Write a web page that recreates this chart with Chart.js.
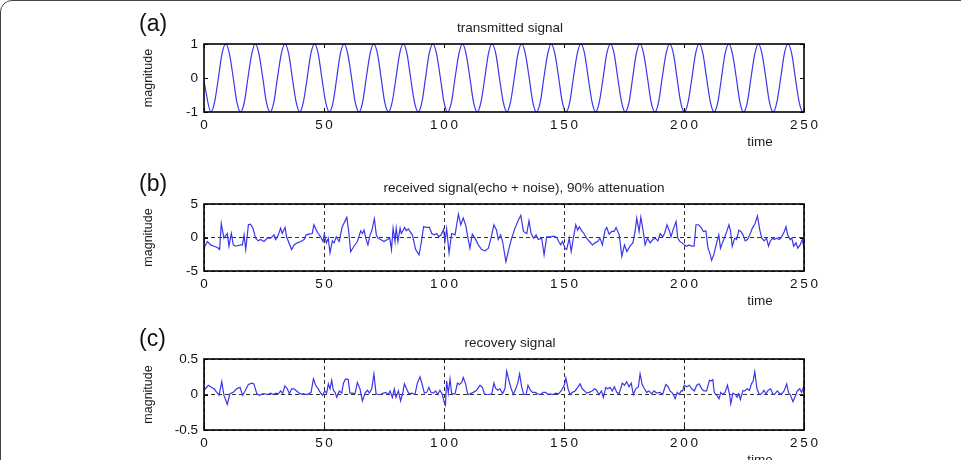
<!DOCTYPE html>
<html>
<head>
<meta charset="utf-8">
<script src="https://cdn.jsdelivr.net/npm/chart.js@4.4.1/dist/chart.umd.min.js"></script>
<style>
body { margin: 0; background: #fff; width: 961px; height: 460px; overflow: hidden; position: relative; }
.frame { position: absolute; left: 0; top: 0; width: 1000px; height: 500px; border: 1px solid #444; border-radius: 12px; box-sizing: border-box; }
canvas { position: absolute; left: 0; }
</style>
</head>
<body>
<div class="frame"></div>
<canvas id="chartA" width="961" height="158" style="top:0px"></canvas>
<canvas id="chartB" width="961" height="157" style="top:158px"></canvas>
<canvas id="chartC" width="961" height="145" style="top:315px"></canvas>
<script>
// x tick labels shared by all three panels
var timeTicks = [0, 50, 100, 150, 200, 250];

// (a) transmitted signal, one row per period (trough, rise, zero, rise, peak, fall, zero, fall)
var aTime = [0,
    2.9, 4.4, 6.0, 7.5, 9.1, 10.6, 12.2, 13.7,
    15.2, 16.8, 18.3, 19.9, 21.4, 22.9, 24.5, 26.0,
    27.6, 29.1, 30.6, 32.2, 33.7, 35.3, 36.8, 38.4,
    39.9, 41.4, 43.0, 44.5, 46.1, 47.6, 49.1, 50.7,
    52.2, 53.8, 55.3, 56.8, 58.4, 59.9, 61.5, 63.0,
    64.6, 66.1, 67.6, 69.2, 70.7, 72.3, 73.8, 75.3,
    76.9, 78.4, 80.0, 81.5, 83.0, 84.6, 86.1, 87.7,
    89.2, 90.8, 92.3, 93.8, 95.4, 96.9, 98.5, 100.0,
    101.5, 103.1, 104.6, 106.2, 107.7, 109.2, 110.8, 112.3,
    113.9, 115.4, 117.0, 118.5, 120.0, 121.6, 123.1, 124.7,
    126.2, 127.7, 129.3, 130.8, 132.4, 133.9, 135.5, 137.0,
    138.5, 140.1, 141.6, 143.2, 144.7, 146.2, 147.8, 149.3,
    150.9, 152.4, 153.9, 155.5, 157.0, 158.6, 160.1, 161.7,
    163.2, 164.7, 166.3, 167.8, 169.4, 170.9, 172.4, 174.0,
    175.5, 177.1, 178.6, 180.1, 181.7, 183.2, 184.8, 186.3,
    187.9, 189.4, 190.9, 192.5, 194.0, 195.6, 197.1, 198.6,
    200.2, 201.7, 203.3, 204.8, 206.3, 207.9, 209.4, 211.0,
    212.5, 214.1, 215.6, 217.1, 218.7, 220.2, 221.8, 223.3,
    224.8, 226.4, 227.9, 229.5, 231.0, 232.5, 234.1, 235.6,
    237.2, 238.7, 240.3, 241.8, 243.3, 244.9, 246.4, 248.0,
    249.5, 250];
var aValue = [-0.1,
    -1, -0.71, 0, 0.71, 1, 0.71, 0, -0.71,
    -1, -0.71, 0, 0.71, 1, 0.71, 0, -0.71,
    -1, -0.71, 0, 0.71, 1, 0.71, 0, -0.71,
    -1, -0.71, 0, 0.71, 1, 0.71, 0, -0.71,
    -1, -0.71, 0, 0.71, 1, 0.71, 0, -0.71,
    -1, -0.71, 0, 0.71, 1, 0.71, 0, -0.71,
    -1, -0.71, 0, 0.71, 1, 0.71, 0, -0.71,
    -1, -0.71, 0, 0.71, 1, 0.71, 0, -0.71,
    -1, -0.71, 0, 0.71, 1, 0.71, 0, -0.71,
    -1, -0.71, 0, 0.71, 1, 0.71, 0, -0.71,
    -1, -0.71, 0, 0.71, 1, 0.71, 0, -0.71,
    -1, -0.71, 0, 0.71, 1, 0.71, 0, -0.71,
    -1, -0.71, 0, 0.71, 1, 0.71, 0, -0.71,
    -1, -0.71, 0, 0.71, 1, 0.71, 0, -0.71,
    -1, -0.71, 0, 0.71, 1, 0.71, 0, -0.71,
    -1, -0.71, 0, 0.71, 1, 0.71, 0, -0.71,
    -1, -0.71, 0, 0.71, 1, 0.71, 0, -0.71,
    -1, -0.71, 0, 0.71, 1, 0.71, 0, -0.71,
    -1, -0.71, 0, 0.71, 1, 0.71, 0, -0.71,
    -1, -0.71, 0, 0.71, 1, 0.71, 0, -0.71,
    -1, -0.99];
var aTicks = [-1, 0, 1];

// (b) received signal (echo + noise)
var bTime = [0, 1.4, 2.8, 4.2, 5.6, 6.5, 7.2, 8.3, 9.7, 10.4, 11.4, 12.2, 13.2, 15.3, 16, 16.7, 17.4, 18.5, 19.4, 20.4,
    21.5, 22.6, 23.6, 25, 26.4, 27.8, 29.2, 29.9, 31, 31.9, 32.6, 33.8, 34.4, 36.5, 37.5, 38.9, 40.3, 41.7, 42.6, 43.8,
    45.1, 45.8, 46.8, 47.6, 48.6, 49.6, 50.1, 51, 51.8, 52.5, 53.5, 54.2, 55.1, 56.3, 57.6, 59.5, 60.3, 61.1, 62.5, 63.9,
    65.3, 66, 66.7, 67.4, 68.3, 69.2, 69.9, 71, 71.8, 72.5, 73.6, 75, 76.4, 77.4, 78.1, 78.8, 79.6, 80.1, 80.8, 81.7,
    82.2, 82.9, 83.6, 84.3, 85.1, 85.8, 86.8, 88.2, 89.6, 90.6, 91.5, 92.5, 93.9, 94.9, 96, 97, 97.8, 98.8, 99.8, 100.4,
    101.1, 102.1, 103.2, 104.6, 106, 107, 108, 109, 110.1, 110.8, 111.8, 112.9, 114.3, 115.7, 117.1, 118.5, 119.6, 120.8, 121.9, 122.6,
    123.6, 124.4, 125.8, 127.1, 128.2, 129.6, 131, 132, 133.1, 134.5, 135.4, 136.3, 137.3, 138.4, 139.3, 140.7, 141.7, 142.8, 144.2, 145.8,
    146.9, 147.8, 148.6, 149.4, 150.4, 151.1, 152.2, 153, 153.9, 154.9, 155.7, 156.4, 157.4, 158.3, 159.4, 160.6, 161.9, 162.9, 164, 165,
    166, 167.1, 167.8, 168.8, 169.9, 170.9, 171.7, 173, 174.1, 175.2, 176.2, 177.5, 178.7, 179.6, 180.3, 181.3, 182, 182.8, 183.8, 184.8,
    185.9, 187, 188, 189.1, 190.1, 191.1, 191.9, 192.9, 193.9, 194.6, 195.4, 196.7, 197.4, 198.3, 199.2, 200.1, 201.1, 202.2, 203.2, 204.2,
    205, 206, 207.1, 208.1, 209.1, 210, 211, 211.5, 212.4, 213.4, 214.5, 215.2, 216, 216.8, 218, 218.7, 219.4, 220.1, 221.1, 221.9,
    222.9, 223.7, 224.6, 225.5, 226.4, 227.4, 228.5, 229.6, 230.6, 231.6, 232.4, 233.4, 234.4, 235.2, 235.9, 236.9, 237.6, 238.6, 239.7, 240.7,
    241.8, 242.5, 243.2, 244.2, 244.9, 245.7, 246.7, 247.4, 248.4, 249.3, 250];
var bValue = [-1.6, -0.6, -1.1, -1.3, -1.5, -1.8, 2.1, -0.1, 0.6, -1.3, 0.6, -1.1, -1.3, -1.1, -1.1, 0.4, -1.8, 1.9, 2.0, 1.4,
    -0.1, -0.5, -0.3, -0.6, -0.1, -0.1, 0.4, -0.3, 0.4, 1.4, 0.6, 1.5, 0.1, -1.8, -1.1, -0.8, -0.6, -0.3, 0.4, 0.5,
    0.6, 1.9, 1.1, 0.6, 0.1, -0.6, 0.5, -0.8, -0.1, -2.3, -0.5, -0.8, 0.1, -0.6, 1.6, 3.0, 0.9, -2.1, -1.3, -0.6,
    1.0, 0.6, 1.1, -0.1, -1.1, 0.4, 1.0, 2.8, 0.4, -0.1, -0.3, -0.6, -0.3, -0.1, -1.8, 1.4, -0.6, 1.4, -0.6, 1.4,
    0.6, 1.0, 1.5, 1.0, 1.3, 0.9, 0.4, -1.8, -2.6, -0.6, 1.6, 1.5, 1.5, 0.6, 0.4, 0.6, 0.1, 0.4, 1.2, -0.6,
    1.3, -2.3, 0.6, 0.4, 3.5, 1.9, 2.9, 1.9, -0.3, -1.6, 0.5, -0.1, -1.1, -1.8, -2.0, -1.6, -0.1, 1.9, 1.1, -0.3,
    0.4, -0.6, -3.6, -1.6, -0.1, 1.4, 2.6, 3.3, 0.9, 0.6, 2.5, 0.6, -0.1, 0.4, -0.3, -0.1, -2.6, 0.1, 0.1, 0.2,
    0.0, -0.6, -1.1, -0.6, -1.6, -1.8, -0.1, -2.1, -0.1, 1.9, 1.1, 1.6, 1.0, 0.6, -0.1, -0.6, -1.1, -0.8, -0.6, -0.1,
    -1.1, 1.1, 1.5, 0.5, 0.9, 0.9, 1.5, 0.4, -2.8, -1.1, -2.1, -1.3, -0.8, 0.9, 2.9, 0.9, 3.0, 1.4, -1.1, -0.1,
    -0.8, -0.3, -0.1, -0.5, 0.6, 0.1, 0.6, 1.9, 1.0, 0.1, 1.1, 2.4, -0.1, -0.6, -0.8, -1.1, -1.3, -1.1, -1.3, -1.3,
    1.9, 1.9, 1.5, 0.9, 1.0, -1.6, -2.6, -3.4, -2.6, -1.1, 0.4, -1.6, -0.8, -0.1, 1.1, 1.9, 1.0, -1.3, -0.1, -0.3,
    1.1, 0.9, 0.4, -0.5, -0.3, 0.4, 1.4, 2.1, 3.2, 1.1, -0.1, -0.5, -0.1, -1.3, -0.6, -0.1, -0.3, -0.1, -0.3, 0.1,
    0.9, 1.6, 0.4, -0.3, -0.1, -1.3, -0.8, -1.6, -1.1, -0.3, -1.5];
var bTicks = [-5, 0, 5];

// (c) recovery signal
var cTime = [0, 0.4, 1.8, 3.2, 4.2, 5.3, 6.3, 7.4, 8.3, 9.7, 10.8, 12.2, 13.6, 15, 16.1, 17.1, 18.5, 19.9, 20.8, 22,
    23.1, 24.4, 25.4, 26.5, 27.8, 28.9, 30, 31, 31.9, 32.8, 33.7, 34.7, 35.6, 36.5, 37.5, 38.6, 40, 41.4, 43, 44.6,
    45.6, 46.5, 47.6, 48.6, 49.4, 50.3, 51.1, 51.8, 52.5, 53.2, 53.9, 54.6, 55.3, 56.4, 57.4, 58.1, 59, 60.1, 60.8, 61.9,
    62.9, 63.9, 65, 66, 67.1, 68.1, 68.9, 69.9, 70.8, 71.7, 72.6, 73.6, 74.7, 75.7, 76.8, 77.5, 78.5, 79.3, 80, 81,
    81.9, 82.8, 83.5, 84.4, 85.4, 86.5, 87.9, 88.9, 90, 91, 91.8, 92.8, 93.7, 94.6, 95.6, 96.5, 97.4, 98.3, 99.3, 100.1,
    100.6, 101.1, 101.8, 102.5, 103.2, 104.6, 105.6, 106.4, 107.4, 108, 109, 109.9, 110.8, 112.2, 113.6, 115, 116, 116.8, 117.8, 118.9,
    119.9, 120.8, 121.5, 122.4, 123.3, 124.4, 125.4, 126.1, 127.1, 128, 128.9, 129.9, 130.8, 131.5, 132.4, 133.2, 134.2, 135, 136, 136.9,
    138, 139, 140.2, 141.3, 142.3, 143.4, 144.2, 145.3, 146.7, 147.8, 149, 150.1, 150.8, 151.7, 152.5, 153.5, 154.6, 155.7, 156.7, 157.6,
    158.6, 159.4, 160.5, 161.7, 162.8, 163.6, 164.6, 165.6, 166.4, 167.4, 168.2, 169.2, 170.1, 171, 172, 172.9, 173.6, 174.3, 175.2, 176.1,
    177.1, 178, 178.9, 179.9, 181, 181.7, 182.6, 183.5, 184.4, 185.4, 186.5, 187.5, 188.6, 190, 191.1, 192.4, 193.2, 194.2, 195.2, 196.3,
    197.2, 198, 198.8, 199.4, 200.1, 201.1, 202.2, 203.2, 204.3, 205.3, 206.3, 207.4, 208.3, 209.4, 210.6, 211.3, 212, 212.6, 213.6, 214.6,
    215.3, 216.1, 217.1, 218.1, 219, 219.5, 220.4, 221.4, 222.1, 222.8, 223.5, 224.5, 225.3, 226.3, 227.3, 228.1, 228.8, 229.5, 230.4, 231.4,
    232.3, 233.3, 234.2, 235.1, 236.1, 237.1, 237.9, 238.9, 239.9, 240.7, 241.7, 242.8, 243.5, 244.4, 245.4, 246.2, 247.2, 248.2, 249, 249.9, 250];
var cValue = [0.06, 0.06, 0.13, 0.10, 0.08, 0.03, -0.01, 0.18, -0.01, -0.14, 0.01, 0.03, 0.08, 0.10, -0.01, 0.05, 0.14, 0.16, 0.15, 0.01,
    -0.01, 0.01, 0.01, 0, 0.02, 0, 0.02, 0.01, 0.05, 0.02, 0.12, 0.08, 0.01, 0.08, 0.08, 0.05, 0.01, 0.01, 0, 0.03,
    0.22, 0.13, 0.08, 0.02, -0.01, 0.05, 0.02, 0.15, 0.08, 0.20, 0.06, 0.03, -0.04, 0.05, 0.02, 0.16, 0.22, 0.21, 0.02, 0.02,
    0.01, 0.17, 0.08, -0.09, 0.02, 0.06, 0.02, 0.08, 0.29, 0.01, 0, 0, 0.02, 0.03, 0, 0.05, -0.04, 0.08, -0.04, 0.05,
    -0.09, 0.02, 0.15, 0.08, 0.01, 0.02, 0, 0.16, 0.25, 0.13, 0.02, 0.03, 0.10, 0.03, 0.02, 0.05, 0, 0.06, 0, -0.11,
    -0.15, 0.19, 0.02, 0.22, 0.01, 0.01, 0.16, 0.14, 0.17, 0.24, 0.15, 0, 0.01, 0.03, 0.06, 0.13, 0.10, 0.01, 0, 0,
    0.01, 0.16, 0.09, 0.06, 0.08, 0.01, 0.08, 0.33, 0.19, 0.08, 0, 0.08, 0.17, 0.29, 0.10, 0, 0, 0.13, 0.06, 0.03,
    0.03, 0.01, 0, 0.03, 0.03, 0, 0.01, 0, 0.02, 0.01, 0.06, 0.13, 0.23, 0.08, 0, 0.03, 0.05, 0.10, 0.15, 0.08,
    0.05, 0.02, 0.03, 0.05, 0.08, 0.06, 0, 0.05, -0.04, 0.10, 0.08, 0.10, 0.05, 0.11, 0.03, 0.01, 0.08, 0.16, 0.13, 0.18,
    0.11, 0.16, 0, 0.08, 0.11, 0.29, 0.14, 0.08, 0.03, 0.05, 0.01, 0.05, 0.02, 0.03, 0, 0.14, 0.12, 0.05, 0.02, -0.06,
    0.03, 0, 0.05, 0.05, 0.13, 0.11, 0.13, 0.08, 0.05, 0.13, 0.15, 0.08, 0.05, 0.05, 0.20, 0.19, 0.21, 0.03, -0.01, -0.06,
    0.03, 0, 0.03, 0.13, 0, -0.13, 0.02, 0, -0.04, 0.01, -0.07, 0.05, 0.05, 0.08, 0.06, 0.15, 0.19, 0.32, 0.08, 0,
    0.01, 0.06, 0.01, 0.06, 0.08, 0, 0.01, 0.05, 0.01, 0.01, 0.05, 0.15, 0.03, -0.01, -0.10, -0.04, 0.05, 0.08, 0.03, 0.11, 0.15];
var cTicks = [-0.5, 0, 0.5];

var LINE_COLOR = '#3a36ec';
var FONT = '"Liberation Sans", Arial, Helvetica, sans-serif';

// the x labels are set with wide letter spacing in the original
function spaced(v) {
    return String(v).split('').join('\u2009');
}

function toPoints(xs, ys) {
    return xs.map(function (x, i) { return { x: x, y: ys[i] }; });
}

// frame, inner tick marks and the panel texts
var panelDeco = {
    id: 'panelDeco',
    afterDraw: function (chart, args, opts) {
        var c = chart.ctx, a = chart.chartArea;
        var xs = chart.scales.x, ys = chart.scales.y;
        c.save();
        c.strokeStyle = '#000';
        c.lineWidth = 1;
        c.beginPath();
        xs.ticks.forEach(function (t) {
            var px = Math.round(xs.getPixelForValue(t.value)) + 0.5;
            c.moveTo(px, a.top); c.lineTo(px, a.top + 4);
            c.moveTo(px, a.bottom); c.lineTo(px, a.bottom - 4);
        });
        ys.ticks.forEach(function (t) {
            var py = Math.round(ys.getPixelForValue(t.value)) + 0.5;
            c.moveTo(a.left, py); c.lineTo(a.left + 4, py);
            c.moveTo(a.right, py); c.lineTo(a.right - 4, py);
        });
        c.stroke();
        c.lineWidth = 1.6;
        c.strokeRect(a.left, a.top, a.right - a.left, a.bottom - a.top);

        c.fillStyle = '#222';
        c.textBaseline = 'middle';
        c.textAlign = 'center';
        c.font = '13.5px ' + FONT;
        c.fillText(opts.title, (a.left + a.right) / 2 + opts.shift, a.top - 16);
        c.fillText('time', 760, a.bottom + 30);
        c.save();
        c.font = '12.5px ' + FONT;
        c.translate(149, (a.top + a.bottom) / 2);
        c.rotate(-Math.PI / 2);
        c.fillText('magnitude', 0, 0);
        c.restore();
        c.textAlign = 'left';
        c.fillStyle = '#111';
        c.font = '23px ' + FONT;
        c.fillText(opts.label, 139, a.top - 19);
        c.restore();
    }
};

function makePanel(id, xs, ys, yTicks, title, label, grid, curve, areaTop, areaBottom, shift) {
    var canvas = document.getElementById(id);
    var h = canvas.height;
    var gridOpts = grid
        ? { display: true, drawOnChartArea: true, drawTicks: false, color: '#333', lineWidth: 1 }
        : { display: false, drawTicks: false };
    return new Chart(canvas.getContext('2d'), {
        type: 'line',
        data: {
            datasets: [{
                data: toPoints(xs, ys),
                borderColor: LINE_COLOR,
                borderWidth: 1.2,
                pointRadius: 0,
                fill: false,
                cubicInterpolationMode: curve ? 'monotone' : 'default',
                tension: curve ? 0.4 : 0
            }]
        },
        options: {
            responsive: false,
            animation: false,
            layout: { padding: { left: 204 - 50, right: 961 - 804, top: areaTop, bottom: h - areaBottom - 30 } },
            plugins: {
                legend: { display: false },
                tooltip: { enabled: false },
                panelDeco: { title: title, label: label, shift: shift }
            },
            scales: {
                x: {
                    type: 'linear',
                    min: timeTicks[0],
                    max: timeTicks[timeTicks.length - 1],
                    afterBuildTicks: function (s) { s.ticks = timeTicks.map(function (v) { return { value: v }; }); },
                    afterFit: function (s) { s.height = 30; },
                    grid: gridOpts,
                    border: { display: false, dash: [4, 3] },
                    ticks: { padding: 5, color: '#111', font: { family: FONT, size: 13.5 }, maxRotation: 0, callback: spaced }
                },
                y: {
                    min: yTicks[0],
                    max: yTicks[yTicks.length - 1],
                    afterBuildTicks: function (s) { s.ticks = yTicks.map(function (v) { return { value: v }; }); },
                    afterFit: function (s) { s.width = 50; },
                    grid: gridOpts,
                    border: { display: false, dash: [4, 3] },
                    ticks: { padding: 6, color: '#111', font: { family: FONT, size: 13.5 }, callback: function (v) { return String(v); } }
                }
            }
        },
        plugins: [panelDeco]
    });
}

makePanel('chartA', aTime, aValue, aTicks, 'transmitted signal', '(a)', false, true, 44, 112, 6);
makePanel('chartB', bTime, bValue, bTicks, 'received signal(echo + noise), 90% attenuation', '(b)', true, false, 46, 113, 20);
makePanel('chartC', cTime, cValue, cTicks, 'recovery signal', '(c)', true, false, 44, 115, 6);
</script>
</body>
</html>
